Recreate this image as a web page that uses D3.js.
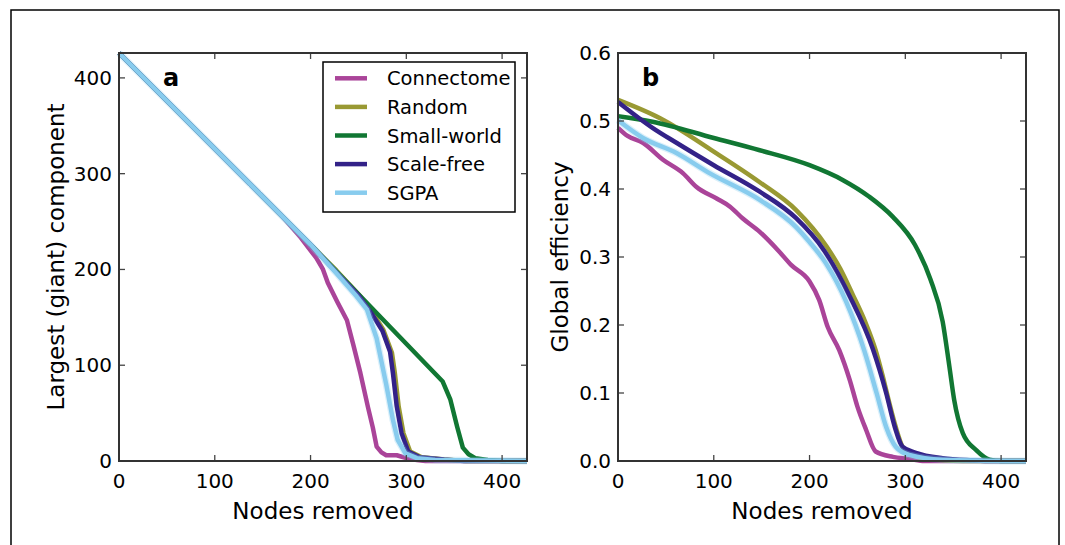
<html>
<head>
  <script src="https://cdn.jsdelivr.net/npm/d3@7"></script>
  <style>
    body { margin: 0; background: #fff; }
    text { font-family: "DejaVu Sans", sans-serif; }
  </style>
</head>
<body>
<script>
  // series names and colours, in legend order
  var seriesNames = ["Connectome", "Random", "Small-world", "Scale-free", "SGPA"];
  var seriesColors = ["#aa4499", "#999933", "#117733", "#332288", "#88ccee"];

  var xTicks = [0, 100, 200, 300, 400];
  var yTicksA = [0, 100, 200, 300, 400];
  var yTicksB = [0, 0.1, 0.2, 0.3, 0.4, 0.5, 0.6];

  // panel a: largest component vs nodes removed
  var giantConnectome = [[0,426],[170,256],[190,233],[206,212],[213,200],[218,186],[228,166],[238,147],[245,120],[252,92],[260,56],[265,35],[269,15],[274,9],[279,6],[290,6],[300,3],[311,1],[320,0],[426,0]];
  var giantRandom = [[0,426],[200,226],[227,199],[252,172],[266,153],[276,137],[285,113],[288,92],[292,57],[297,29],[304,10],[316,4],[340,1.5],[362,0],[426,0]];
  var giantSmallWorld = [[0,426],[200,226],[338,83],[346,64],[353,36],[359,14],[365,7],[372,3],[385,1],[400,0],[426,0]];
  var giantScaleFree = [[0,426],[200,226],[225,199],[250,173],[265,152],[275,136],[283,114],[286,92],[290,57],[295,29],[302,10],[314,4],[339,1.5],[360,0],[426,0]];
  var giantSGPA = [[0,426],[200,226],[227,196],[248,172],[259,158],[269,128],[279,80],[286,43],[291,22],[299,8],[311,3],[330,1],[426,0]];

  // panel b: global efficiency vs nodes removed
  var effConnectome = [[0,0.49],[10,0.478],[26,0.468],[47,0.443],[68,0.423],[82,0.403],[103,0.386],[117,0.374],[130,0.357],[148,0.337],[167,0.31],[181,0.288],[200,0.264],[210,0.237],[219,0.197],[231,0.163],[242,0.119],[250,0.08],[259,0.046],[269,0.014],[287,0.006],[304,0.003],[320,0],[426,0]];
  var effRandom = [[0,0.531],[44,0.504],[100,0.455],[148,0.41],[186,0.369],[218,0.315],[232,0.283],[245,0.245],[258,0.205],[269,0.163],[276,0.127],[283,0.087],[290,0.05],[297,0.021],[305,0.01],[320,0.004],[340,0.001],[360,0],[426,0]];
  var effSmallWorld = [[0,0.507],[36,0.499],[100,0.475],[148,0.457],[200,0.435],[235,0.413],[262,0.389],[287,0.359],[310,0.318],[326,0.268],[339,0.205],[346,0.139],[351,0.09],[360,0.041],[374,0.016],[388,0.002],[400,0],[426,0]];
  var effScaleFree = [[0,0.528],[36,0.49],[61,0.468],[100,0.435],[148,0.396],[186,0.357],[215,0.31],[242,0.242],[266,0.165],[280,0.10],[289,0.05],[297,0.021],[311,0.012],[339,0.004],[370,0.001],[390,0],[426,0]];
  var effSGPA = [[0,0.501],[26,0.475],[61,0.453],[96,0.423],[148,0.384],[186,0.344],[200,0.322],[217,0.291],[238,0.235],[257,0.163],[270,0.10],[280,0.05],[290,0.021],[304,0.009],[339,0.002],[426,0]];

  var giantSeries = [giantConnectome, giantRandom, giantSmallWorld, giantScaleFree, giantSGPA];
  var effSeries = [effConnectome, effRandom, effSmallWorld, effScaleFree, effSGPA];

  var svg = d3.select("body").append("svg").attr("width", 1065).attr("height", 545);

  // outer figure frame
  svg.append("rect").attr("x", 11).attr("y", 10).attr("width", 1048).attr("height", 560)
    .attr("fill", "none").attr("stroke", "#000").attr("stroke-width", 1.5);

  function panel(left, yDomain, yTicks, yFmt, series, curve, yLabel, yLabelX, letter) {
    var x = d3.scaleLinear().domain([0, 426]).range([left, left + 408]);
    var y = d3.scaleLinear().domain(yDomain).range([461, 53]);
    var g = svg.append("g");

    // lines
    var line = d3.line().x(function (d) { return x(d[0]); }).y(function (d) { return y(d[1]); }).curve(curve);
    series.forEach(function (s, i) {
      if (i == 4) {
        g.append("path").attr("d", line(s)).attr("fill", "none")
          .attr("stroke", seriesColors[i]).attr("stroke-opacity", 0.3).attr("stroke-width", 7);
      }
      g.append("path").attr("d", line(s)).attr("fill", "none")
        .attr("stroke", seriesColors[i]).attr("stroke-width", 4.5)
        .attr("stroke-linejoin", "round");
    });

    // ticks on all four sides, pointing in
    var tl = 6;
    g.selectAll(".xb").data(xTicks).enter().append("line")
      .attr("x1", x).attr("x2", x).attr("y1", 461).attr("y2", 461 - tl)
      .attr("stroke", "#444").attr("stroke-width", 1.3);
    g.selectAll(".xt").data(xTicks).enter().append("line")
      .attr("x1", x).attr("x2", x).attr("y1", 53).attr("y2", 53 + tl)
      .attr("stroke", "#444").attr("stroke-width", 1.3);
    g.selectAll(".yl").data(yTicks).enter().append("line")
      .attr("y1", y).attr("y2", y).attr("x1", left).attr("x2", left + tl)
      .attr("stroke", "#444").attr("stroke-width", 1.3);
    g.selectAll(".yr").data(yTicks).enter().append("line")
      .attr("y1", y).attr("y2", y).attr("x1", left + 408).attr("x2", left + 408 - tl)
      .attr("stroke", "#444").attr("stroke-width", 1.3);

    g.append("rect").attr("x", left).attr("y", 53).attr("width", 408).attr("height", 408)
      .attr("fill", "none").attr("stroke", "#333").attr("stroke-width", 2);

    // tick labels
    g.selectAll(".xlab").data(xTicks).enter().append("text")
      .attr("x", x).attr("y", 488).attr("text-anchor", "middle")
      .attr("font-size", 20).text(function (d) { return d; });
    g.selectAll(".ylab").data(yTicks).enter().append("text")
      .attr("x", left - 7).attr("y", function (d) { return y(d) + 7; })
      .attr("text-anchor", "end").attr("font-size", 20).text(yFmt);

    g.append("text").attr("x", left + 204).attr("y", 519).attr("text-anchor", "middle")
      .attr("font-size", 23).text("Nodes removed");
    g.append("text").attr("transform", "translate(" + yLabelX + ",257) rotate(-90)")
      .attr("text-anchor", "middle").attr("font-size", 23).text(yLabel);

    g.append("text").attr("x", left + (letter == "a" ? 44 : 24)).attr("y", 86)
      .attr("font-size", 24).attr("font-weight", "bold").text(letter);
    return g;
  }

  panel(119, [0, 426], yTicksA, function (d) { return d; }, giantSeries, d3.curveLinear,
    "Largest (giant) component", 64, "a");
  panel(618, [0, 0.6], yTicksB, d3.format(".1f"), effSeries, d3.curveMonotoneX,
    "Global efficiency", 568, "b");

  // legend in panel a
  var legend = svg.append("g");
  legend.append("rect").attr("x", 323).attr("y", 62).attr("width", 192).attr("height", 150)
    .attr("fill", "#fff").attr("stroke", "#000").attr("stroke-width", 1.5);
  seriesNames.forEach(function (name, i) {
    var ly = 78.3 + i * 28.6;
    legend.append("line").attr("x1", 335).attr("x2", 367).attr("y1", ly).attr("y2", ly)
      .attr("stroke", seriesColors[i]).attr("stroke-width", 4.5);
    legend.append("text").attr("x", 387).attr("y", ly + 7).attr("font-size", 19.5).text(name);
  });
</script>
</body>
</html>
